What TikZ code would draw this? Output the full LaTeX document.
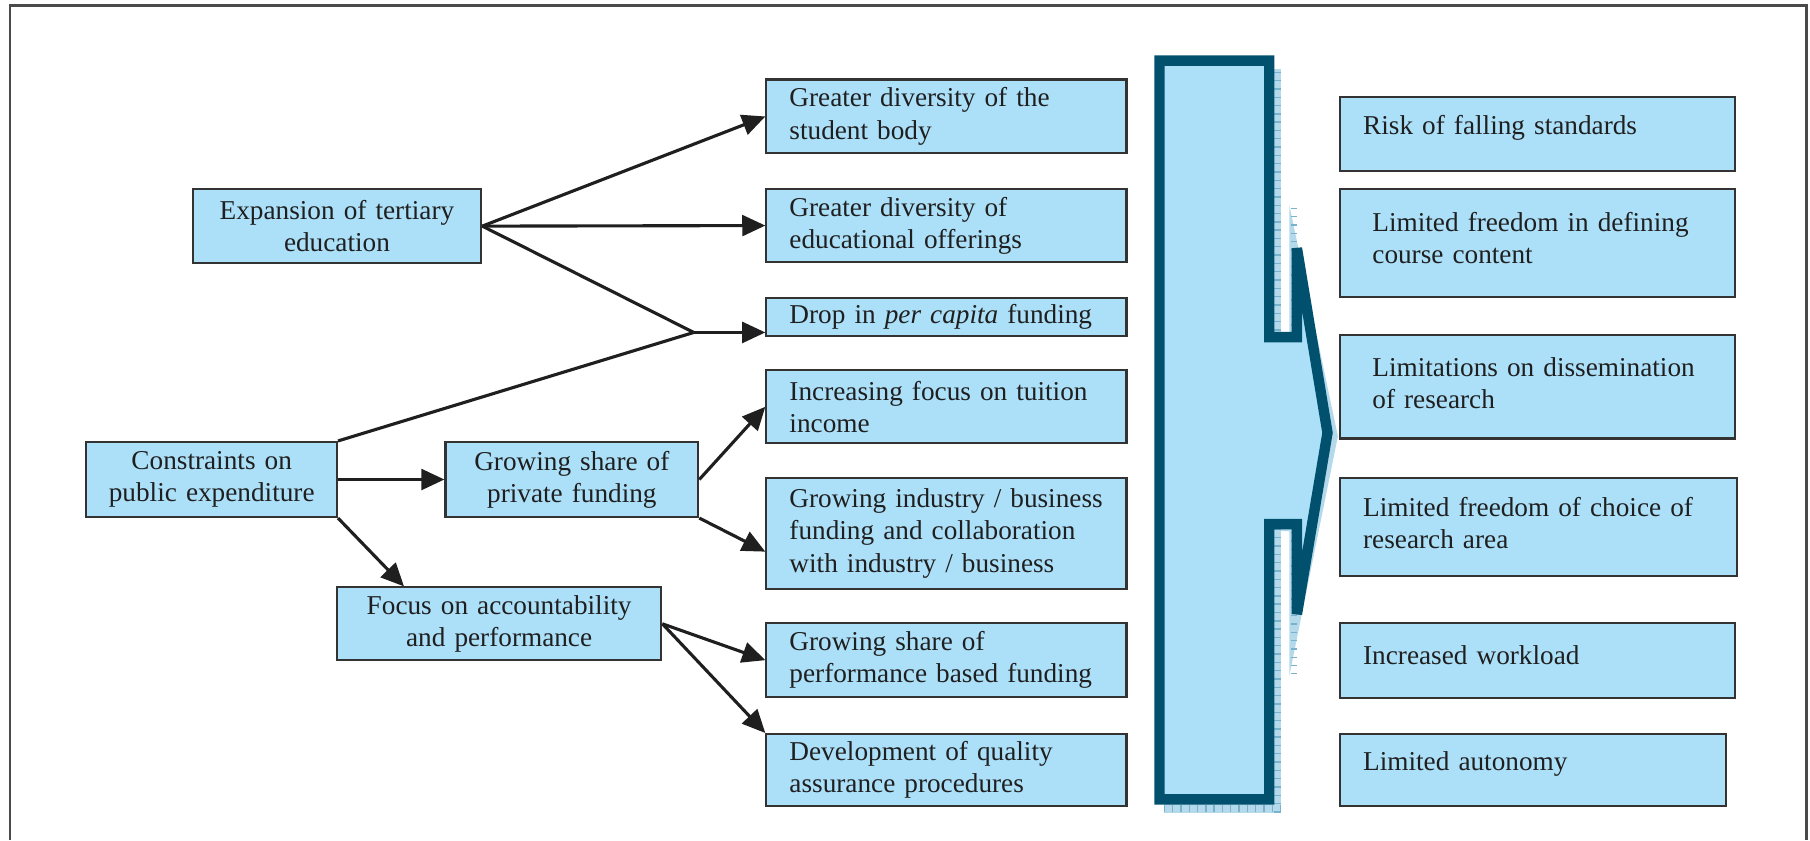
\documentclass[tikz,border=0pt]{standalone}
\usepackage{fontspec}
\setmainfont{Liberation Serif}
\usetikzlibrary{arrows.meta,calc}
\definecolor{boxfill}{HTML}{ACE0F9}
\definecolor{boxline}{HTML}{333333}
\definecolor{arrdark}{HTML}{00506E}
\definecolor{shadowfill}{HTML}{B3D9EA}
\definecolor{shadowtick}{HTML}{78B2CD}
\definecolor{framegray}{HTML}{4A4A4A}
\newcommand\myup[1]{\par\vspace*{#1}}
\begin{document}
\begin{tikzpicture}[x=0.5pt,y=-0.5pt,
  box/.style={draw=boxline, fill=boxfill, line width=0.9pt, anchor=north west, inner ysep=0pt,
              font=\fontsize{11.8}{14}\selectfont, text=black!88},
  lbox/.style={box, align=left},
  cbox/.style={box, align=center},
  conn/.style={line width=1.35pt, draw=black!88},
  arr/.style={conn, -{Triangle[length=10pt,width=9pt]}},
]
\useasboundingbox (0,0) rectangle (1568,727.7);

% outer frame (open at bottom)
\draw[framegray, line width=1.1pt] (8.7,727.7) -- (8.7,5) -- (1565,5) -- (1565,727.7);

% left column
\node[cbox, text width=117pt, inner xsep=4pt, minimum height=32pt] (exp) at (166,163) {Expansion of tertiary\\education};
\node[cbox, text width=100.5pt, inner xsep=4pt, minimum height=32.5pt] (con) at (74,382) {Constraints on\\public expenditure};
\node[cbox, text width=101.5pt, inner xsep=4pt, minimum height=32.5pt] (gs) at (385,382) {Growing share of\\private funding};
\node[cbox, text width=132.5pt, inner xsep=4pt, minimum height=31.5pt] (foc) at (291,508) {Focus on accountability\\and performance};

% middle column
\node[lbox, text width=136pt, inner xsep=10pt, minimum height=32pt] (m1) at (663,68) {Greater diversity of the\\student body};
\node[lbox, text width=136pt, inner xsep=10pt, minimum height=31.5pt] (m2) at (663,163) {Greater diversity of\\educational offerings};
\node[lbox, text width=136pt, inner xsep=10pt, minimum height=16.5pt] (m3) at (663,257) {Drop in \textit{per capita} funding};
\node[lbox, text width=136pt, inner xsep=10pt, minimum height=31.5pt] (m4) at (663,320) {Increasing focus on tuition\\income};
\node[lbox, text width=136pt, inner xsep=10pt, minimum height=48pt] (m5) at (663,413) {\mbox{Growing industry / business}\\funding and collaboration\\with industry / business};
\node[lbox, text width=136pt, inner xsep=10pt, minimum height=32pt] (m6) at (663,539) {Growing share of\\\mbox{performance based funding}};
\node[lbox, text width=136pt, inner xsep=10pt, minimum height=31pt] (m7) at (663,635) {Development of quality\\assurance procedures};

% right column
\node[lbox, text width=151pt, inner xsep=10pt, minimum height=32pt] (r1) at (1160,83) {Risk of falling standards\myup{5pt}};
\node[lbox, text width=143pt, inner xsep=14pt, minimum height=46.5pt] (r2) at (1160,163) {Limited freedom in defining\\course content\myup{4pt}};
\node[lbox, text width=143pt, inner xsep=14pt, minimum height=45pt] (r3) at (1160,289) {Limitations on dissemination\\of research\myup{3pt}};
\node[lbox, text width=152pt, inner xsep=10pt, minimum height=42.5pt] (r4) at (1160,413) {Limited freedom of choice of\\research area\myup{3pt}};
\node[lbox, text width=151pt, inner xsep=10pt, minimum height=32.5pt] (r5) at (1160,539) {Increased workload\myup{5pt}};
\node[lbox, text width=147pt, inner xsep=10pt, minimum height=31pt] (r6) at (1160,635) {Limited autonomy\myup{5pt}};

% big block arrow: shadow
\fill[shadowfill] (1008,60) rectangle (1110,704);
\fill[shadowfill] (1105,290) -- (1117,290) -- (1117,178) -- (1159,378) -- (1117,585) -- (1117,460) -- (1105,460) -- cycle;
\draw[shadowtick, line width=3pt, dash pattern=on 0.6pt off 3pt] (1107,62) -- (1107,704);
\draw[shadowtick, line width=3pt, dash pattern=on 0.6pt off 3pt] (1008,700.5) -- (1110,700.5);
\draw[shadowtick, line width=3pt, dash pattern=on 0.6pt off 3pt] (1121,180) -- (1121,584);
% big block arrow: body
\draw[arrdark, fill=boxfill, line width=4.5pt, miter limit=4]
  (1004.5,52.5) -- (1099.5,52.5) -- (1099.5,292) -- (1123.5,292) -- (1123.5,215)
  -- (1150,375) -- (1123.5,532) -- (1123.5,454) -- (1099.5,454) -- (1099.5,692.5)
  -- (1004.5,692.5) -- cycle;

% connectors
\coordinate (J) at (601,288);
\draw[arr] (exp.east) -- (m1.west);
\draw[arr] (exp.east) -- (m2.west);
\draw[conn] (exp.east) -- (J);
\draw[conn] (con.north east) -- (J);
\draw[arr] (J) -- (J -| m3.west);
\draw[arr] (con.east) -- (gs.west);
\draw[arr] (con.south east) -- ($(foc.north west)+(59,0)$);
\draw[arr] (gs.east) -- (m4.west);
\draw[arr] (gs.south east) -- ($(m5.west)+(0,16)$);
\draw[arr] (foc.east) -- (m6.west);
\draw[arr] (foc.east) -- (m7.north west);
\end{tikzpicture}
\end{document}
